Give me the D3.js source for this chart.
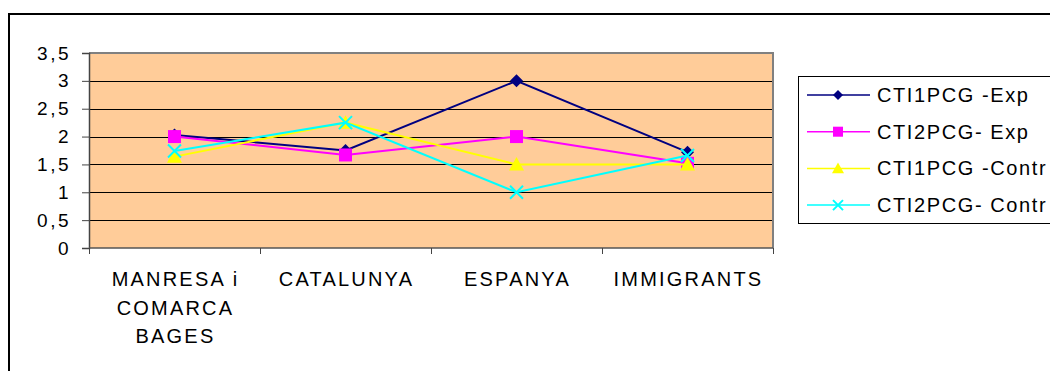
<!DOCTYPE html>
<html>
<head>
<meta charset="utf-8">
<script src="https://cdn.jsdelivr.net/npm/d3@7"></script>
<style type="text/css">
  body{
    margin: 0px;
    background: white;
  }
  svg text{
    font-family: 'Liberation Sans', Arial, sans-serif;
    fill: black;
  }
</style>
</head>
<body>

<svg id="chart" width="1050" height="371"></svg>

<script>

// categories (label lines) and series
var categories = ["MANRESA i COMARCA BAGES", "CATALUNYA", "ESPANYA", "IMMIGRANTS"];
var categoryLines = [["MANRESA i", "COMARCA", "BAGES"], ["CATALUNYA"], ["ESPANYA"], ["IMMIGRANTS"]];

var seriesNames = ["CTI1PCG -Exp", "CTI2PCG- Exp", "CTI1PCG -Contr", "CTI2PCG- Contr"];
var cti1Exp   = [2.03, 1.75, 3.0, 1.72];
var cti2Exp   = [2.0, 1.67, 2.0, 1.52];
var cti1Contr = [1.64, 2.25, 1.5, 1.5];
var cti2Contr = [1.74, 2.25, 1.0, 1.66];

var yTicks = [0, 0.5, 1, 1.5, 2, 2.5, 3, 3.5];

var seriesValues = [cti1Exp, cti2Exp, cti1Contr, cti2Contr];
var seriesColors = ["#000080", "#FF00FF", "#FFFF00", "#00FFFF"];
var seriesMarkers = ["diamond", "square", "triangle", "cross"];

var svg = d3.select("#chart");

// outer chart frame (only top and left show in the window)
svg.append("rect")
  .attr("x", 9).attr("y", 14)
  .attr("width", 1100).attr("height", 400)
  .attr("fill", "white")
  .attr("stroke", "black")
  .attr("stroke-width", 2);

var plot = {left: 89, right: 773, top: 53, bottom: 248};

var x = d3.scaleBand()
  .domain(categories)
  .range([plot.left, plot.right]);

var y = d3.scaleLinear()
  .domain([0, 3.5])
  .range([plot.bottom, plot.top]);

// plot background
svg.append("rect")
  .attr("x", plot.left).attr("y", plot.top)
  .attr("width", plot.right - plot.left)
  .attr("height", plot.bottom - plot.top)
  .attr("fill", "#FFCC99");

// gridlines
svg.append("g")
  .selectAll("line")
  .data(yTicks.filter(function(d) { return d > 0 && d < 3.5; }))
  .enter().append("line")
  .attr("x1", plot.left).attr("x2", plot.right)
  .attr("y1", function(d) { return Math.round(y(d)) + 0.5; })
  .attr("y2", function(d) { return Math.round(y(d)) + 0.5; })
  .attr("stroke", "#000")
  .attr("stroke-width", 1);

// plot border top/right
svg.append("path")
  .attr("d", "M" + plot.left + "," + plot.top + "H" + plot.right + "V" + plot.bottom)
  .attr("fill", "none")
  .attr("stroke", "#808080")
  .attr("stroke-width", 2);

var fmt = function(d) { return d3.format("~g")(d).replace(".", ","); };

// y axis
var yAxis = svg.append("g")
  .attr("transform", "translate(" + plot.left + ",0)")
  .call(d3.axisLeft(y).tickValues(yTicks).tickFormat(fmt).tickSize(7).tickPadding(11));

yAxis.select(".domain").attr("stroke", "#444").attr("stroke-width", 1.5);
yAxis.selectAll(".tick line").attr("stroke", "#444");
yAxis.selectAll("text")
  .attr("font-size", 19)
  .attr("letter-spacing", "2.5px")
  .attr("fill", "black")
  .style("font-family", "'Liberation Sans', Arial, sans-serif");

// x axis: ticks on category boundaries
var xAxis = svg.append("g")
  .attr("transform", "translate(0," + plot.bottom + ")");

xAxis.append("line")
  .attr("x1", plot.left).attr("x2", plot.right)
  .attr("y1", 0).attr("y2", 0)
  .attr("stroke", "#555").attr("stroke-width", 1.5);

var bounds = categories.map(function(c) { return x(c); }).concat([plot.right]);
xAxis.selectAll(".xtick")
  .data(bounds)
  .enter().append("line")
  .attr("class", "xtick")
  .attr("x1", function(d) { return Math.round(d) + 0.5; })
  .attr("x2", function(d) { return Math.round(d) + 0.5; })
  .attr("y1", 0).attr("y2", 6)
  .attr("stroke", "#444");

categories.forEach(function(c, i) {
  var t = svg.append("text")
    .attr("text-anchor", "middle")
    .attr("font-size", 20)
    .attr("letter-spacing", "2.2px");
  categoryLines[i].forEach(function(line, j) {
    t.append("tspan")
      .attr("x", x(c) + x.bandwidth() / 2 + 1)
      .attr("y", 286 + j * 28.5)
      .text(line);
  });
});

// markers
function drawMarker(g, type, color, cx, cy, s) {
  if (type == "diamond") {
    g.append("path")
      .attr("d", "M" + cx + "," + (cy - s) + "L" + (cx + s) + "," + cy + "L" + cx + "," + (cy + s) + "L" + (cx - s) + "," + cy + "Z")
      .attr("fill", color);
  } else if (type == "square") {
    g.append("rect")
      .attr("x", cx - s).attr("y", cy - s)
      .attr("width", 2 * s).attr("height", 2 * s)
      .attr("fill", color);
  } else if (type == "triangle") {
    g.append("path")
      .attr("d", "M" + cx + "," + (cy - s) + "L" + (cx + s) + "," + (cy + s * 0.8) + "L" + (cx - s) + "," + (cy + s * 0.8) + "Z")
      .attr("fill", color);
  } else {
    g.append("path")
      .attr("d", "M" + (cx - s) + "," + (cy - s) + "L" + (cx + s) + "," + (cy + s) + "M" + (cx - s) + "," + (cy + s) + "L" + (cx + s) + "," + (cy - s))
      .attr("stroke", color)
      .attr("stroke-width", 2)
      .attr("fill", "none");
  }
}

var line = d3.line()
  .x(function(d, i) { return x(categories[i]) + x.bandwidth() / 2; })
  .y(function(d) { return y(d); });

var markerSize = [6.5, 6.5, 7.5, 6.5];

seriesValues.forEach(function(vals, k) {
  var g = svg.append("g");
  g.append("path")
    .datum(vals)
    .attr("d", line)
    .attr("fill", "none")
    .attr("stroke", seriesColors[k])
    .attr("stroke-width", 2);
  vals.forEach(function(v, i) {
    drawMarker(g, seriesMarkers[k], seriesColors[k],
      x(categories[i]) + x.bandwidth() / 2, y(v), markerSize[k]);
  });
});

// legend
var legend = svg.append("g");
legend.append("rect")
  .attr("x", 798.5).attr("y", 76.5)
  .attr("width", 300).attr("height", 147)
  .attr("fill", "white")
  .attr("stroke", "black")
  .attr("stroke-width", 1);

seriesNames.forEach(function(name, k) {
  var ly = 95 + k * 36.7;
  legend.append("line")
    .attr("x1", 807).attr("x2", 870)
    .attr("y1", ly).attr("y2", ly)
    .attr("stroke", seriesColors[k])
    .attr("stroke-width", 1.5);
  drawMarker(legend, seriesMarkers[k], seriesColors[k], 838, ly, markerSize[k] - 1.5);
  legend.append("text")
    .attr("x", 877)
    .attr("y", ly + 7)
    .attr("font-size", 20)
    .attr("letter-spacing", "1.6px")
    .text(name);
});

</script>

</body>
</html>
